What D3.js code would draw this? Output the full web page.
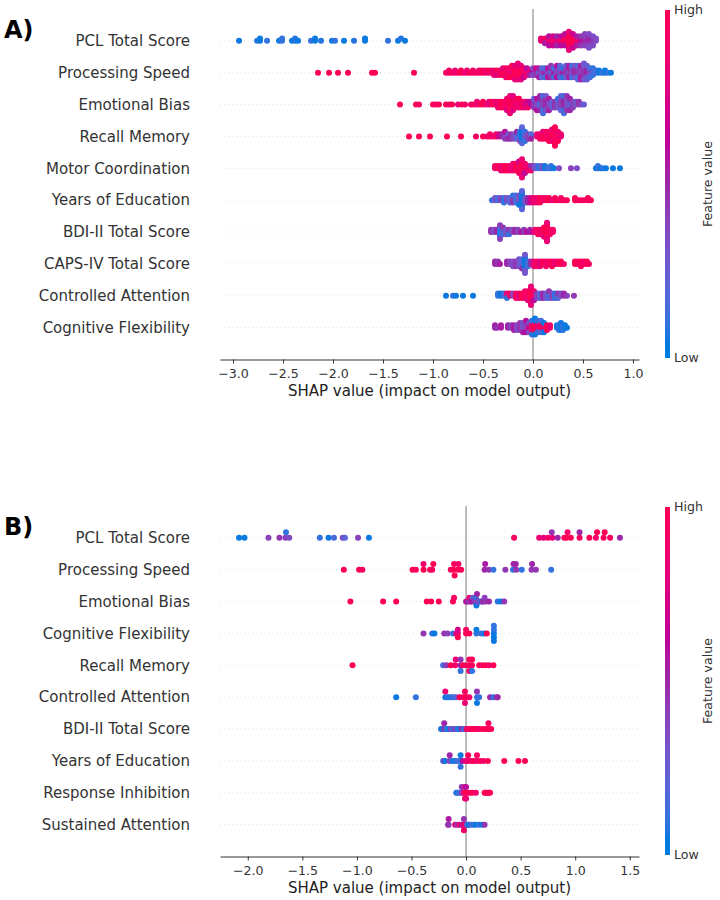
<!DOCTYPE html>
<html>
<head>
<meta charset="utf-8">
<script src="https://cdn.jsdelivr.net/npm/d3@7"></script>
<style>
  body { margin: 0; background: #fff; }
  text { font-family: "DejaVu Sans", sans-serif; }
</style>
</head>
<body>
<svg id="chart"></svg>
<script>
// Each entry: [SHAP value, feature value 0..1, number of samples at that value (default 1)]
// Panel A, features top to bottom
const featuresA = ["PCL Total Score", "Processing Speed", "Emotional Bias", "Recall Memory",
  "Motor Coordination", "Years of Education", "BDI-II Total Score", "CAPS-IV Total Score",
  "Controlled Attention", "Cognitive Flexibility"];

const pclA = [[-2.94,.05],[-2.76,.08],[-2.73,.05,2],[-2.66,.1],[-2.54,.05],[-2.51,.1,2],[-2.41,.05],[-2.38,.08,2],[-2.35,.05],[-2.22,.1],[-2.18,.05,2],[-2.12,.08],[-2.01,.05],[-1.98,.1],[-1.89,.05],[-1.79,.08],[-1.68,.05,2],[-1.45,.1],[-1.35,.05],[-1.32,.08],[-1.28,.05],
  [0.08,.85,2],[0.12,.9,2],[0.12,.55,1],[0.16,.85,3],[0.16,.6,2],[0.20,.9,3],[0.20,.7,2],[0.24,.8,3],[0.24,.5,2],[0.28,.9,3],[0.28,.6,2],[0.32,.95,4],[0.32,.6,2],
  [0.36,1,6],[0.36,.85,3],[0.40,1,5],[0.40,.7,2],[0.44,.9,3],[0.44,.55,2],[0.48,.6,3],[0.48,.45,2],[0.52,.5,3],[0.52,.4,3],[0.56,.5,4],[0.56,.35,3],[0.60,.45,3],[0.60,.35,2],[0.63,.35,2]];

const speedA = [[-2.15,1],[-2.04,1],[-1.95,1],[-1.85,1],[-1.61,1],[-1.58,1],[-1.19,1],
  [-0.87,.95,1],[-0.84,.9,2],[-0.81,1,1],[-0.78,.85,2],[-0.75,.95,1],[-0.72,1,2],[-0.69,.9,1],[-0.66,.85,2],[-0.63,1,1],[-0.60,.9,2],[-0.57,.95,1],[-0.54,.85,2],[-0.51,1,2],[-0.48,.9,2],[-0.45,.8,1],[-0.45,1,1],
  [-0.42,.95,2],[-0.39,.85,3],[-0.36,1,2],[-0.36,.8,1],[-0.33,.9,3],[-0.30,1,3],[-0.30,.8,1],[-0.27,.95,4],[-0.27,.85,1],[-0.24,.9,4],[-0.24,1,1],[-0.21,.85,4],[-0.21,1,2],
  [-0.18,1,5],[-0.18,.8,2],[-0.15,.95,5],[-0.15,.85,3],[-0.12,1,5],[-0.12,.8,2],[-0.09,.9,4],[-0.09,.7,1],[-0.06,.85,3],[-0.06,.6,1],[-0.03,.8,2],[-0.03,.5,1],
  [0.00,.6,2],[0.00,.35,2],[0.03,.45,3],[0.03,.7,1],[0.06,.3,3],[0.06,.55,2],[0.09,.4,3],[0.09,.2,2],[0.12,.5,3],[0.12,.15,2],[0.15,.35,3],[0.15,.6,2],[0.18,.25,3],[0.18,.45,3],
  [0.21,.5,3],[0.21,.15,2],[0.24,.35,4],[0.24,.6,2],[0.27,.4,3],[0.27,.2,3],[0.30,.5,3],[0.30,.1,2],[0.33,.45,4],[0.33,.25,2],[0.36,.35,3],[0.36,.55,3],[0.39,.4,4],[0.39,.15,2],
  [0.42,.5,4],[0.42,.3,2],[0.45,.45,4],[0.45,.2,3],[0.48,.4,4],[0.48,.55,3],[0.51,.45,5],[0.51,.3,3],[0.54,.5,4],[0.54,.25,3],[0.57,.35,3],[0.57,.15,2],
  [0.60,.3,2],[0.60,.1,2],[0.63,.15,2],[0.66,.05,2],[0.69,.1,1],[0.72,.05,2],[0.75,.1,1],[0.78,.05,1]];

const emoA = [[-1.33,1],[-1.17,1],[-1.14,.95],[-1.00,1],[-0.97,.9],[-0.94,1],[-0.87,1],[-0.84,.9],[-0.81,1],[-0.75,.85],[-0.71,1],[-0.68,.9],
  [-0.62,.9,1],[-0.59,1,1],[-0.56,.85,2],[-0.53,.95,1],[-0.50,1,2],[-0.47,.9,1],[-0.44,.8,2],[-0.41,1,2],[-0.38,.9,2],[-0.35,.85,3],[-0.32,1,3],[-0.29,.95,3],
  [-0.26,.9,4],[-0.26,.75,1],[-0.23,1,5],[-0.23,.85,2],[-0.20,.95,4],[-0.20,.8,2],[-0.17,.9,4],[-0.14,.85,3],[-0.14,1,1],[-0.11,.95,3],[-0.08,.8,3],[-0.05,.7,2],[-0.05,.9,1],[-0.02,.6,2],
  [0.01,.45,3],[0.01,.25,1],[0.04,.35,3],[0.04,.6,2],[0.07,.2,3],[0.07,.5,3],[0.10,.4,4],[0.10,.15,3],[0.13,.5,4],[0.13,.3,2],[0.16,.35,3],[0.16,.55,2],[0.19,.25,3],[0.22,.45,3],
  [0.25,.3,3],[0.25,.1,1],[0.28,.4,4],[0.28,.2,2],[0.31,.5,4],[0.31,.15,3],[0.34,.35,4],[0.34,.45,2],[0.37,.25,3],[0.37,.5,2],[0.40,.4,3],[0.43,.3,2],[0.46,.45,2],[0.49,.35,1],[0.51,.25,1]];

const recallA = [[-1.24,1],[-1.14,1],[-1.03,1],[-0.86,1],[-0.72,1],[-0.57,.95],[-0.50,1],[-0.46,.9],[-0.43,.95,2],[-0.40,.85],[-0.37,.9,2],[-0.34,.7,2],
  [-0.31,.5,2],[-0.28,.4,3],[-0.28,.6,1],[-0.25,.3,2],[-0.25,.5,1],[-0.22,.45,3],[-0.19,.35,3],[-0.16,.2,3],[-0.16,.5,1],[-0.13,.1,4],[-0.13,.4,1],[-0.11,.05,6],[-0.11,.2,2],
  [-0.08,.3,3],[-0.08,.1,2],[-0.05,.4,3],[-0.02,.2,2],[-0.02,.5,1],
  [0.04,.85,2],[0.07,.9,3],[0.10,1,3],[0.10,.8,1],[0.13,.95,4],[0.16,.9,4],[0.16,1,1],[0.19,1,4],[0.19,.85,2],[0.22,.95,6],[0.22,1,3],[0.25,.9,4],[0.25,1,1],[0.28,.85,2]];

const motorA = [[-0.38,.9,2],[-0.35,1,2],[-0.32,.85,3],[-0.29,.95,3],[-0.26,1,3],[-0.23,.9,3],[-0.20,.85,4],[-0.17,1,4],[-0.14,.95,5],[-0.14,.7,1],[-0.11,1,6],[-0.11,.85,3],
  [-0.08,.9,4],[-0.08,.6,1],[-0.05,.85,3],[-0.02,.5,2],[-0.02,.9,1],
  [0.01,.4,2],[0.03,.25,2],[0.06,.1,2],[0.09,.3,2],[0.12,.05,2],[0.15,.15],[0.18,.1,2],[0.21,.05],[0.26,.35],[0.38,.4],[0.44,.35],
  [0.63,.05],[0.65,.1,2],[0.68,.05],[0.70,.1],[0.73,.05],[0.80,.05],[0.87,.05]];

const educA = [[-0.41,.1],[-0.38,.3,2],[-0.35,.15,2],[-0.32,.4,2],[-0.29,.1,3],[-0.26,.35,2],[-0.23,.2,3],[-0.20,.45,3],[-0.20,.1,1],[-0.17,.15,4],[-0.14,.3,4],[-0.14,.05,1],
  [-0.11,.05,7],[-0.11,.2,2],[-0.08,.3,3],[-0.05,.5,3],[-0.02,.7,3],
  [0.01,.9,3],[0.04,.85,3],[0.07,1,3],[0.10,.9,2],[0.13,.95,2],[0.16,1,2],[0.19,.85],[0.22,.95,2],[0.25,1],[0.28,.9,2],[0.31,1],[0.34,.95],
  [0.42,1,2],[0.45,.95],[0.48,1],[0.51,.9],[0.55,1,2],[0.58,.95]];

const bdiA = [[-0.42,.45,2],[-0.39,.35,2],[-0.36,.5,2],[-0.33,.1,5],[-0.33,.4,2],[-0.30,.15,3],[-0.30,.45,1],[-0.27,.3,3],[-0.24,.45,2],[-0.24,.1,1],[-0.21,.35,2],[-0.18,.5,2],[-0.15,.4,2],
  [-0.12,.55],[-0.09,.45,2],[-0.06,.6],[-0.03,.5,2],[0.00,.65],
  [0.02,.85,2],[0.05,.95,3],[0.08,.9,3],[0.11,1,4],[0.11,.8,1],[0.14,1,6],[0.14,.85,3],[0.17,.95,3],[0.20,.9,2]];

const capsA = [[-0.38,.5,2],[-0.35,.45,2],[-0.33,.55],[-0.26,.5,2],[-0.23,.4,2],[-0.20,.35,3],[-0.17,.45,3],[-0.14,.3,4],[-0.11,.2,4],[-0.11,.45,1],[-0.08,.05,6],[-0.08,.3,3],[-0.05,.15,3],[-0.02,.5,2],
  [0.01,.85,3],[0.04,.95,3],[0.07,.8,3],[0.10,1,2],[0.13,.9,3],[0.16,.95,2],[0.19,1,3],[0.22,.85,2],[0.25,.95,2],[0.28,1,2],[0.31,.9],
  [0.42,1,2],[0.45,.95,2],[0.48,1,3],[0.51,.9,2],[0.54,1,2],[0.56,.95]];

const attnA = [[-0.87,.05],[-0.80,.1],[-0.77,.05],[-0.70,.05],[-0.60,.05],
  [-0.35,.1,2],[-0.32,.05,2],[-0.29,.15,2],[-0.26,.85,2],[-0.26,.1,1],[-0.23,.9,2],[-0.20,.4,2],[-0.17,.95,3],[-0.14,.85,3],[-0.11,1,3],[-0.08,.9,4],[-0.05,.95,4],[-0.05,.8,1],
  [-0.02,1,6],[-0.02,.85,3],[0.01,.9,4],[0.01,.6,1],
  [0.04,.4,3],[0.07,.2,3],[0.10,.5,3],[0.13,.3,3],[0.16,.15,3],[0.16,.45,1],[0.19,.4,3],[0.22,.1,3],[0.25,.45,2],[0.25,.2,1],[0.28,.35,2],[0.31,.5,2],[0.34,.4],[0.41,.45]];

const flexA = [[-0.38,.5,2],[-0.36,.45],[-0.32,.55,2],[-0.25,.5,2],[-0.22,.4,2],[-0.19,.55,3],[-0.16,.35,3],[-0.13,.45,4],[-0.10,.3,4],[-0.10,.55,1],[-0.07,.4,4],[-0.07,.6,2],[-0.04,.7,3],[-0.04,.35,2],
  [-0.01,.9,5],[-0.01,.1,2],[0.02,1,5],[0.02,.05,3],[0.05,.85,4],[0.05,.1,2],[0.08,.95,4],[0.08,.15,2],[0.11,.9,3],[0.11,.05,2],[0.14,1,3],[0.17,.85,2],
  [0.24,.05,2],[0.26,.1,3],[0.28,.05,4],[0.30,.1,3],[0.32,.05,2],[0.34,.05]];

const rowsA = [pclA, speedA, emoA, recallA, motorA, educA, bdiA, capsA, attnA, flexA];

// Panel B
const featuresB = ["PCL Total Score", "Processing Speed", "Emotional Bias", "Cognitive Flexibility",
  "Recall Memory", "Controlled Attention", "BDI-II Total Score", "Years of Education",
  "Response Inhibition", "Sustained Attention"];

const pclB = [[-2.08,.05],[-2.03,.05],[-1.81,.4],[-1.71,.45],[-1.655,.4],[-1.65,.1],[-1.62,.35],[-1.34,.1],[-1.26,.05],[-1.21,.15],[-1.13,.35],[-1.11,.2],[-0.99,.4],[-0.89,.05],
  [0.44,.95],[0.67,.85],[0.71,.8],[0.75,.9],[0.79,.85],[0.785,.45],[0.84,.5],[0.90,.95],[0.92,1],[0.93,.9],[0.96,1],[1.04,.95],[1.04,.5],[1.13,1],[1.19,.9],[1.20,1],[1.26,.95],[1.27,1],[1.32,.95],[1.41,.5]];

const speedB = [[-1.12,1],[-0.98,1],[-0.95,.95],[-0.49,1],[-0.46,.95],[-0.39,1],[-0.39,.9],[-0.33,1],[-0.31,.95],[-0.30,1],
  [-0.14,.95],[-0.115,1],[-0.11,.95],[-0.105,1],[-0.075,1],[-0.07,.9],[-0.045,1],
  [0.17,.5],[0.175,.55],[0.21,.45],[0.25,.1],[0.36,.45],[0.43,.1],[0.435,.5],[0.46,.45],[0.455,.5],[0.51,.1],[0.60,.45],[0.605,.5],[0.64,.45],[0.78,.1]];

const emoB = [[-1.06,1],[-0.76,1],[-0.64,1],[-0.36,1],[-0.32,1],[-0.25,1],[-0.12,1],[-0.11,.95],
  [0.00,.5],[0.01,.7],[0.02,.45],[0.03,.85],[0.04,.4],[0.05,.6],[0.06,.3],[0.07,.5],[0.08,.45],[0.09,.4],[0.09,.1],[0.095,.05],[0.10,.5],[0.11,.45],[0.12,.35],[0.14,.05],[0.15,.45],[0.16,.5],[0.17,.4],[0.18,.45],[0.21,.5],[0.29,.1],[0.32,.05],[0.35,.45]];

const flexB = [[-0.39,.45],[-0.31,.1],[-0.29,.05],[-0.20,.45],[-0.17,.4],[-0.12,.1],[-0.09,.8],[-0.075,.8],[-0.075,.75],[-0.075,1],
  [0.00,1],[0.00,.95],[0.03,1],[0.095,.1],[0.095,.05],[0.14,.1],[0.17,.05],[0.19,1],
  [0.255,.05],[0.255,.1],[0.255,.05],[0.255,.1],[0.255,.05]];

const recallB = [[-1.04,1],[-0.21,.15],[-0.18,.45],[-0.14,1],[-0.10,.9],[-0.095,.85],[-0.05,.5],[-0.05,.45],[-0.05,.1],[-0.03,1],[0.00,.95],
  [0.03,1],[0.03,.95],[0.03,.9],[0.055,.95],[0.055,1],[0.055,.1],[0.12,1],[0.15,.95],[0.18,1],[0.21,.9],[0.25,1]];

const attnB = [[-0.64,.05],[-0.46,.1],[-0.19,.05],[-0.19,.85],[-0.17,.1],[-0.15,.05],[-0.13,.15],[-0.11,.1],[-0.09,.2],[-0.06,1],[-0.03,.9],
  [-0.01,1],[-0.01,.95],[-0.01,.85],[0.01,1],[0.03,.9],[0.10,.1],[0.10,.45],[0.10,.05],[0.12,.1],[0.22,.5],[0.25,.1],[0.28,.45],[0.29,.5]];

const bdiB = [[-0.23,.1],[-0.22,.05],[-0.20,.45],[-0.20,.5],[-0.18,.1],[-0.16,.05],[-0.14,.4],[-0.12,.1],[-0.10,.45],[-0.08,.1],[-0.06,.05],[-0.04,.5],[-0.02,.1],[0.00,.45],
  [0.01,1],[0.03,.9],[0.05,.95],[0.07,1],[0.09,.95],[0.095,1],[0.12,.9],[0.15,1],[0.18,.95],[0.20,1],[0.205,1],[0.205,.95],[0.23,1]];

const educB = [[-0.21,.1],[-0.20,.45],[-0.19,.05],[-0.15,.45],[-0.15,.5],[-0.13,.1],[-0.11,.05],[-0.09,.1],[-0.07,.15],[-0.05,.1],[-0.05,.05],[-0.05,.1],[-0.03,.6],
  [0.00,.8],[0.02,.9],[0.02,.95],[0.05,.85],[0.07,1],[0.10,.9],[0.10,.95],[0.13,1],[0.16,.9],[0.20,1],[0.35,1],[0.48,1],[0.54,1]];

const inhibB = [[-0.09,.1],[-0.08,.05],[-0.07,.1],[-0.05,.15],[-0.04,.4],[-0.04,.45],[-0.02,.85],[-0.01,.9],[-0.01,.8],[-0.01,.95],[0.00,1],[0.00,.6],[0.00,.85],
  [0.02,1],[0.04,.95],[0.06,1],[0.09,.9],[0.17,1],[0.18,.95],[0.20,1],[0.21,.95],[0.22,1]];

const sustB = [[-0.165,.5],[-0.16,.45],[-0.16,.55],[-0.10,.8],[-0.08,.45],[-0.06,.9],[-0.04,.5],[-0.03,.85],[-0.02,.6],[-0.02,.45],[-0.02,.9],[-0.01,1],[0.00,.85],
  [0.01,.15],[0.02,.1],[0.03,.05],[0.05,.15],[0.07,.1],[0.09,.05],[0.12,.1],[0.15,.05],[0.17,.45]];

const rowsB = [pclB, speedB, emoB, flexB, recallB, attnB, bdiB, educB, inhibB, sustB];

const xTicksA = [-3.0, -2.5, -2.0, -1.5, -1.0, -0.5, 0.0, 0.5, 1.0];
const xTicksB = [-2.0, -1.5, -1.0, -0.5, 0.0, 0.5, 1.0, 1.5];

const panels = [
  { tag: "A)", features: featuresA, rows: rowsA, ticks: xTicksA, top: 0 },
  { tag: "B)", features: featuresB, rows: rowsB, ticks: xTicksB, top: 497 }
];

// ---- drawing ----
const width = 720, height = 900;
const plotLeft = 220, plotRight = 639;
const labelX = 190;
const nbins = 100, rowHeight = 0.4;
const dotR = 3;

// shap red_blue colour map (interpolated in LCh), blue end toned down a little
function redBlue(t) {
  const k = t * 99;
  const l = k < 50 ? 51 - 11 * k / 49 : 40 + 14 * (k - 50) / 49;
  const c = 60 + 28 * t;
  const h = (4.6588 + (0.35470565 + 2 * Math.PI - 4.6588) * t) * 180 / Math.PI;
  return d3.hcl(h % 360, c, l).formatHex();
}

// expand [shap, fv, n] entries into single samples
function expand(row) {
  return row.flatMap(d => d3.range(d[2] || 1).map(() => [d[0], d[1]]));
}

// beeswarm offsets the same way shap.summary_plot does it
function swarm(row) {
  const xs = row.map(d => d[0]);
  const lo = d3.min(xs), hi = d3.max(xs);
  const quant = xs.map(x => Math.round(nbins * (x - lo) / (hi - lo + 1e-8)));
  const order = d3.range(row.length).sort((a, b) => quant[a] - quant[b] || a - b);
  const ys = new Array(row.length).fill(0);
  let layer = 0, last = -1;
  for (const i of order) {
    if (quant[i] !== last) layer = 0;
    ys[i] = Math.ceil(layer / 2) * ((layer % 2) * 2 - 1);
    layer++;
    last = quant[i];
  }
  const k = 0.9 * rowHeight / d3.max(ys, v => v + 1);
  return row.map((d, i) => ({ x: d[0], f: d[1], dy: ys[i] * k }));
}

const svg = d3.select("#chart")
  .attr("width", width)
  .attr("height", height)
  .attr("viewBox", [0, 0, width, height]);

svg.append("rect").attr("width", width).attr("height", height).attr("fill", "#fff");

const defs = svg.append("defs");
const grad = defs.append("linearGradient")
  .attr("id", "cbar").attr("x1", 0).attr("y1", 1).attr("x2", 0).attr("y2", 0);
d3.range(0, 1.0001, 0.02).forEach(t => {
  grad.append("stop").attr("offset", t).attr("stop-color", redBlue(t));
});

panels.forEach(p => {
  const g = svg.append("g");
  const n = p.features.length;
  const rows = p.rows.map(expand);

  const all = rows.flat().map(d => d[0]);
  const [mn, mx] = d3.extent(all);
  const pad = (mx - mn) * 0.05;
  const x = d3.scaleLinear().domain([mn - pad, mx + pad]).range([plotLeft, plotRight]);
  const y = d3.scaleLinear().domain([-1, n]).range([p.top + 359.5, p.top + 9]);

  // dotted row guides
  g.append("g")
    .selectAll("line")
    .data(p.features)
    .join("line")
    .attr("x1", plotLeft).attr("x2", plotRight)
    .attr("y1", (d, i) => y(n - 1 - i)).attr("y2", (d, i) => y(n - 1 - i))
    .attr("stroke", "#cccccc")
    .attr("stroke-width", 0.7)
    .attr("stroke-dasharray", "0.8,3.2");

  // zero line
  g.append("line")
    .attr("x1", x(0)).attr("x2", x(0))
    .attr("y1", y(n)).attr("y2", y(-1))
    .attr("stroke", "#999999")
    .attr("stroke-width", 1.3);

  // dots
  rows.forEach((row, i) => {
    const pos = n - 1 - i;
    g.append("g")
      .selectAll("circle")
      .data(swarm(row))
      .join("circle")
      .attr("cx", d => x(d.x))
      .attr("cy", d => y(pos + d.dy))
      .attr("r", dotR)
      .attr("fill", d => redBlue(d.f));
  });

  // feature labels
  g.append("g")
    .selectAll("text")
    .data(p.features)
    .join("text")
    .attr("x", labelX)
    .attr("y", (d, i) => y(n - 1 - i))
    .attr("dy", "0.35em")
    .attr("text-anchor", "end")
    .attr("font-size", 15)
    .attr("fill", "#333333")
    .text(d => d);

  // x axis
  const ax = g.append("g")
    .attr("transform", `translate(0,${y(-1)})`)
    .call(d3.axisBottom(x).tickValues(p.ticks).tickFormat(d3.format(".1f")).tickSize(4).tickSizeOuter(0));
  ax.select(".domain").attr("stroke", "#333333");
  ax.selectAll(".tick line").attr("stroke", "#333333");
  ax.selectAll(".tick text")
    .attr("font-family", "DejaVu Sans")
    .attr("font-size", 12.6)
    .attr("fill", "#333333")
    .attr("dy", "0.9em");

  g.append("text")
    .attr("x", (plotLeft + plotRight) / 2)
    .attr("y", p.top + 396)
    .attr("text-anchor", "middle")
    .attr("font-size", 15)
    .attr("fill", "#222222")
    .text("SHAP value (impact on model output)");

  // panel tag
  g.append("text")
    .attr("x", 4)
    .attr("y", p.top + 38)
    .attr("font-size", 24)
    .attr("font-weight", "bold")
    .attr("fill", "#000")
    .text(p.tag);

  // colour bar
  const cbTop = p.top + 10, cbBottom = p.top + 358;
  g.append("rect")
    .attr("x", 665).attr("y", cbTop)
    .attr("width", 5).attr("height", cbBottom - cbTop)
    .attr("fill", "url(#cbar)");
  g.append("text")
    .attr("x", 674).attr("y", cbTop).attr("dy", "0.35em")
    .attr("font-size", 12.6).attr("fill", "#333333")
    .text("High");
  g.append("text")
    .attr("x", 674).attr("y", cbBottom).attr("dy", "0.35em")
    .attr("font-size", 12.6).attr("fill", "#333333")
    .text("Low");
  g.append("text")
    .attr("transform", `translate(708,${(cbTop + cbBottom) / 2}) rotate(-90)`)
    .attr("text-anchor", "middle")
    .attr("dy", "0.35em")
    .attr("font-size", 12.6).attr("fill", "#333333")
    .text("Feature value");
});
</script>
</body>
</html>
